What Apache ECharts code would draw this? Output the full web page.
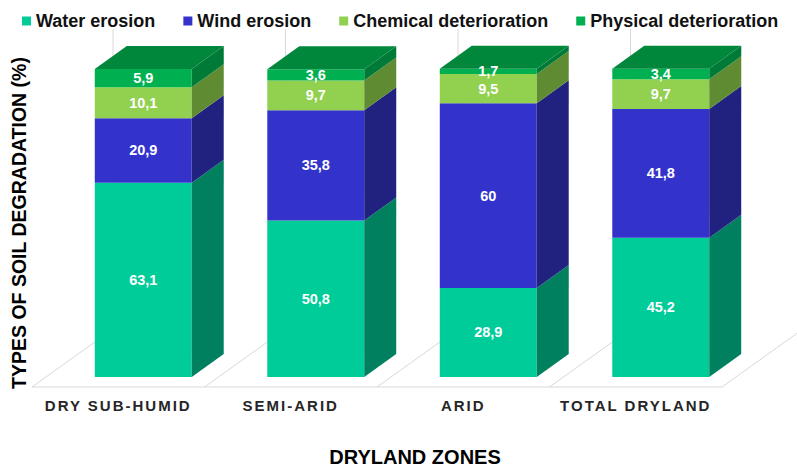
<!DOCTYPE html>
<html>
<head>
<meta charset="utf-8">
<style>
  html, body { margin: 0; padding: 0; background: #ffffff; }
  #chart { width: 797px; height: 472px; }
</style>
<script src="https://cdn.jsdelivr.net/npm/echarts@6/dist/echarts.min.js"></script>
</head>
<body>
<div id="chart"></div>
<script>
// Dryland zones and the share of each soil degradation type (%)
const categories = ['DRY SUB-HUMID', 'SEMI-ARID', 'ARID', 'TOTAL DRYLAND'];
const seriesNames = ['Water erosion', 'Wind erosion', 'Chemical deterioration', 'Physical deterioration'];
const waterErosion = [63.1, 50.8, 28.9, 45.2];
const windErosion = [20.9, 35.8, 60, 41.8];
const chemicalDeterioration = [10.1, 9.7, 9.5, 9.7];
const physicalDeterioration = [5.9, 3.6, 1.7, 3.4];

const FONT = '"Liberation Sans", Arial, Helvetica, sans-serif';

// face colours: front, right side, top
const palette = [
  { front: '#00CC99', side: '#00805F', top: '#00805F' },
  { front: '#3333CC', side: '#212180', top: '#212180' },
  { front: '#92D050', side: '#5F8B33', top: '#5F8B33' },
  { front: '#00B050', side: '#007A37', top: '#00873C' }
];

// 3D projection of the column depth
const DEPTH_X = 32, DEPTH_Y = -23;   // column depth
const FLOOR_X = 81, FLOOR_Y = -58;   // floor depth (front edge to back wall)
const BAR_RATIO = 0.562;             // front face width / category band

const seriesValues = [waterErosion, windErosion, chemicalDeterioration, physicalDeterioration];

// stacked segments: [categoryIndex, base, top, value]
const stacked = [];
const running = categories.map(() => 0);
seriesValues.forEach((vals, s) => {
  stacked.push(vals.map((v, i) => {
    const base = running[i];
    running[i] += v;
    return [i, base, running[i], v];
  }));
});

function fmt(v) { return String(v).replace('.', ','); }

function columnRenderer(s) {
  const isTop = s === seriesValues.length - 1;
  const col = palette[s];
  return function (params, api) {
    const i = api.value(0);
    const p0 = api.coord([i, api.value(1)]);
    const p1 = api.coord([i, api.value(2)]);
    const w = api.size([1, 0])[0] * BAR_RATIO;
    const xL = p0[0] - w / 2, xR = p0[0] + w / 2;
    const yB = p0[1], yT = p1[1];
    const children = [
      { type: 'rect', shape: { x: xL, y: yT, width: w, height: yB - yT }, style: { fill: col.front } },
      { type: 'polygon', shape: { points: [[xR, yB], [xR + DEPTH_X, yB + DEPTH_Y], [xR + DEPTH_X, yT + DEPTH_Y], [xR, yT]] }, style: { fill: col.side } }
    ];
    if (isTop) {
      children.push({ type: 'polygon', shape: { points: [[xL, yT], [xL + DEPTH_X, yT + DEPTH_Y], [xR + DEPTH_X, yT + DEPTH_Y], [xR, yT]] }, style: { fill: col.top } });
    }
    children.push({
      type: 'text', z2: 50,
      style: {
        text: fmt(api.value(3)), x: p0[0], y: (yB + yT) / 2,
        align: 'center', verticalAlign: 'middle',
        fill: '#ffffff', fontSize: 14.5, fontWeight: 'bold', fontFamily: FONT
      }
    });
    return { type: 'group', children: children };
  };
}

// floor lines and back-wall verticals, drawn in the floor-front grid
function floorRenderer(params, api) {
  const i = api.value(0);
  const c = api.coord([i, 0]);
  const band = api.size([1, 0])[0];
  const h = api.size([0, 100])[1];
  const y = c[1];
  const lineStyle = { stroke: '#d9d9d9', lineWidth: 1 };
  const edges = [c[0] - band / 2];
  if (i === categories.length - 1) edges.push(c[0] + band / 2);
  const children = [
    { type: 'line', shape: { x1: c[0] - band / 2, y1: y, x2: c[0] + band / 2, y2: y }, style: lineStyle }
  ];
  edges.forEach(x => {
    children.push({ type: 'line', shape: { x1: x, y1: y, x2: x + FLOOR_X, y2: y + FLOOR_Y }, style: lineStyle });
    children.push({ type: 'line', shape: { x1: x + FLOOR_X, y1: y + FLOOR_Y, x2: x + FLOOR_X, y2: y + FLOOR_Y - h }, style: lineStyle });
  });
  return { type: 'group', children: children };
}

const chart = echarts.init(document.getElementById('chart'), null, { renderer: 'svg' });

const option = {
  animation: false,
  textStyle: { fontFamily: FONT },
  legend: {
    data: seriesNames,
    left: 17, top: 7,
    icon: 'rect', itemWidth: 9, itemHeight: 9, itemGap: 28,
    textStyle: { fontSize: 18, fontWeight: 'bold', color: '#111111', fontFamily: FONT }
  },
  grid: [
    { left: 57, right: 50, top: 69, bottom: 95 },
    { left: 32, right: 75, top: 87, bottom: 77 }
  ],
  xAxis: [
    { type: 'category', gridIndex: 0, data: categories, show: false },
    {
      type: 'category', gridIndex: 1, data: categories,
      axisLine: { show: false }, axisTick: { show: false },
      axisLabel: { fontSize: 15, fontWeight: 'bold', color: '#262626', margin: 11, fontFamily: FONT },
      name: 'DRYLAND ZONES', nameLocation: 'middle', nameGap: 60,
      nameTextStyle: { fontSize: 20, fontWeight: 'bold', color: '#000000', padding: [0, 0, 0, 76], fontFamily: FONT }
    }
  ],
  yAxis: [
    {
      type: 'value', gridIndex: 0, min: 0, max: 100,
      axisLine: { show: false }, axisTick: { show: false }, axisLabel: { show: false }, splitLine: { show: false },
      name: 'TYPES OF SOIL DEGRADATION (%)', nameLocation: 'middle', nameRotate: 90, nameGap: 28,
      nameTextStyle: { fontSize: 19.5, fontWeight: 'bold', color: '#000000', fontFamily: FONT }
    },
    { type: 'value', gridIndex: 1, min: 0, max: 100, show: false }
  ],
  series: [
    {
      type: 'custom', name: 'floor', xAxisIndex: 1, yAxisIndex: 1, z: 1,
      silent: true, renderItem: floorRenderer,
      data: categories.map((c, i) => [i]), encode: { x: 0 }
    }
  ].concat(seriesNames.map((name, s) => ({
    type: 'custom', name: name, xAxisIndex: 0, yAxisIndex: 0, z: 2,
    itemStyle: { color: palette[s].front },
    renderItem: columnRenderer(s),
    data: stacked[s], encode: { x: 0, y: [1, 2] }
  })))
};

chart.setOption(option);

// spaced capitals for the zone labels
function spaceZoneLabels() {
  document.querySelectorAll('#chart text').forEach(t => {
    if (categories.indexOf(t.textContent) >= 0) t.setAttribute('letter-spacing', '2');
  });
}
chart.on('finished', spaceZoneLabels);
spaceZoneLabels();
setTimeout(spaceZoneLabels, 0);
</script>
</body>
</html>
